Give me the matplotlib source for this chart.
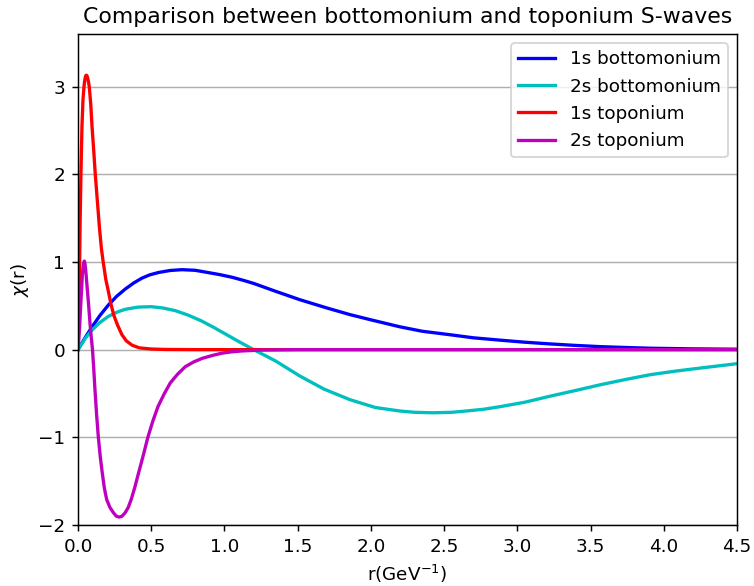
import matplotlib
matplotlib.use("Agg")
import matplotlib.pyplot as plt

# 1s bottomonium
r_1s_b = [0.0, 0.05, 0.094, 0.15, 0.208, 0.265, 0.322, 0.38, 0.436, 0.49, 0.55, 0.63, 0.71,
          0.8, 0.893, 0.97, 1.053, 1.13, 1.2, 1.35, 1.514, 1.7, 1.856, 2.0, 2.199, 2.35,
          2.541, 2.7, 2.884, 3.05, 3.226, 3.4, 3.568, 3.75, 3.91, 4.2, 4.5]
v_1s_b = [0.0, 0.14, 0.255, 0.39, 0.51, 0.61, 0.69, 0.76, 0.815, 0.853, 0.88, 0.903, 0.912,
          0.905, 0.878, 0.855, 0.825, 0.79, 0.755, 0.665, 0.57, 0.475, 0.40, 0.34, 0.26, 0.21,
          0.17, 0.135, 0.108, 0.085, 0.065, 0.048, 0.034, 0.024, 0.016, 0.009, 0.005]

# 2s bottomonium
r_2s_b = [0.0, 0.05, 0.094, 0.15, 0.208, 0.27, 0.322, 0.41, 0.5, 0.58, 0.664, 0.75, 0.84,
          0.92, 1.005, 1.1, 1.2, 1.35, 1.514, 1.68, 1.856, 2.03, 2.199, 2.3, 2.427, 2.55,
          2.65, 2.77, 2.884, 3.05, 3.226, 3.4, 3.568, 3.74, 3.91, 4.08, 4.25, 4.5]
v_2s_b = [0.0, 0.13, 0.22, 0.31, 0.38, 0.43, 0.46, 0.485, 0.49, 0.475, 0.445, 0.395, 0.33,
          0.26, 0.18, 0.09, 0.0, -0.13, -0.30, -0.45, -0.57, -0.66, -0.70, -0.715, -0.72, -0.715,
          -0.70, -0.68, -0.65, -0.60, -0.53, -0.465, -0.40, -0.34, -0.285, -0.245, -0.21, -0.16]

# 1s toponium
r_1s_t = [0.0, 0.004, 0.007, 0.011, 0.014, 0.02, 0.027, 0.034, 0.041, 0.045, 0.049, 0.053,
          0.057, 0.061, 0.066, 0.071, 0.077, 0.087, 0.096, 0.107, 0.118, 0.132, 0.146, 0.16,
          0.172, 0.19, 0.208, 0.225, 0.245, 0.27, 0.3, 0.33, 0.37, 0.42, 0.5, 0.6, 0.8, 1.0,
          2.0, 3.0, 4.5]
v_1s_t = [0.0, 0.25, 0.45, 1.0, 1.4, 2.0, 2.54, 2.85, 3.0, 3.06, 3.1, 3.125, 3.13, 3.125,
          3.1, 3.06, 3.0, 2.8, 2.54, 2.28, 2.0, 1.7, 1.4, 1.15, 1.0, 0.8, 0.66, 0.52, 0.39,
          0.28, 0.17, 0.1, 0.05, 0.02, 0.007, 0.002, 0.0, 0.0, 0.0, 0.0, 0.0]

# 2s toponium
r_2s_t = [0.0, 0.006, 0.011, 0.017, 0.023, 0.03, 0.036, 0.04, 0.043, 0.047, 0.053, 0.064,
          0.073, 0.082, 0.09, 0.099, 0.108, 0.116, 0.127, 0.139, 0.152, 0.166, 0.18, 0.196,
          0.218, 0.242, 0.262, 0.281, 0.3, 0.322, 0.343, 0.363, 0.388, 0.413, 0.445, 0.477,
          0.51, 0.546, 0.59, 0.63, 0.68, 0.733, 0.79, 0.847, 0.92, 0.984, 1.05, 1.12, 1.25,
          1.5, 2.0, 3.0, 4.5]
v_2s_t = [0.0, 0.13, 0.26, 0.46, 0.64, 0.86, 0.96, 0.995, 1.01, 0.99, 0.9, 0.68, 0.5, 0.3,
          0.15, 0.0, -0.23, -0.46, -0.74, -1.0, -1.22, -1.41, -1.58, -1.71, -1.8, -1.86, -1.9,
          -1.91, -1.9, -1.86, -1.8, -1.71, -1.57, -1.41, -1.21, -1.0, -0.82, -0.65, -0.5, -0.38,
          -0.28, -0.194, -0.14, -0.1, -0.065, -0.04, -0.025, -0.015, -0.005, 0.0, 0.0, 0.0, 0.0]

labels = ["1s bottomonium", "2s bottomonium", "1s toponium", "2s toponium"]
colors = ["b", "c", "r", "m"]

DPI = 132
fig = plt.figure(figsize=(754 / DPI, 586 / DPI), dpi=DPI)
ax = fig.add_axes([78 / 754, 61 / 586, 659 / 754, 491 / 586])

series = [(r_1s_b, v_1s_b), (r_2s_b, v_2s_b), (r_1s_t, v_1s_t), (r_2s_t, v_2s_t)]
for (rr, vv), lab, col in zip(series, labels, colors):
    ax.plot(rr, vv, color=col, lw=1.8, label=lab)

ax.set_xlim(0, 4.5)
ax.set_ylim(-2, 3.6)
ax.set_yticks([-2, -1, 0, 1, 2, 3])
ax.yaxis.grid(True)
ax.set_xlabel(r"r(GeV$^{-1}$)")
ax.set_ylabel(r"$\chi$(r)")
ax.set_title("Comparison between bottomonium and toponium S-waves")
ax.legend(loc="upper right")

fig.savefig("out.png", dpi=DPI)
